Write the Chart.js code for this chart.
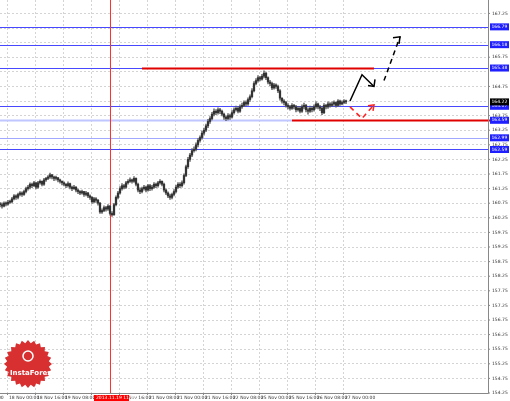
<!DOCTYPE html>
<html><head><meta charset="utf-8">
<script src="https://cdn.jsdelivr.net/npm/chart.js@4"></script>
<style>html,body{margin:0;padding:0;background:#fff}</style>
</head><body>
<canvas id="c" width="510" height="401"></canvas>
<script>
const closes = [
160.70,160.65,160.75,160.72,160.78, 160.80,160.90,161.00,160.95,161.05,
161.10,161.05,161.15,161.25,161.30, 161.40,161.35,161.45,161.30,161.45,
161.50,161.40,161.55,161.60,161.65, 161.72,161.65,161.60,161.62,161.55,
161.50,161.45,161.40,161.35,161.42, 161.30,161.25,161.30,161.20,161.15,
161.10,161.15,161.05,161.10,161.00, 160.95,160.80,160.90,160.85,160.75,
160.45,160.50,160.60,160.55,160.65, 160.40,160.35,160.70,160.95,161.10,
161.25,161.35,161.30,161.45,161.50, 161.55,161.50,161.60,161.40,161.20,
161.15,161.25,161.30,161.20,161.35, 161.25,161.30,161.40,161.35,161.45,
161.50,161.40,161.20,161.10,161.00, 160.95,161.05,161.15,161.30,161.40,
161.35,161.45,161.70,162.00,162.25, 162.40,162.55,162.60,162.75,162.90,
163.00,163.15,163.25,163.40,163.55, 163.65,163.80,163.90,163.85,163.95,
163.90,163.80,163.70,163.65,163.75, 163.70,163.85,163.95,164.00,163.90,
164.05,164.10,164.20,164.15,164.30, 164.40,164.60,164.85,164.95,165.05,
165.00,165.10,165.20,165.05,164.90, 164.85,164.70,164.80,164.75,164.60,
164.35,164.25,164.20,164.10,164.05, 164.00,164.10,164.05,163.95,164.00,
163.90,164.05,164.10,163.95,163.90, 164.00,163.95,164.05,164.15,164.05,
164.00,163.85,164.10,164.05,164.15, 164.10,164.15,164.20,164.10,164.25,
164.15,164.20,164.25,164.22];
const highs = [
160.78,160.76,160.80,160.80,160.85, 160.86,160.95,161.05,161.04,161.10,
161.15,161.14,161.20,161.30,161.36, 161.45,161.44,161.50,161.46,161.50,
161.55,161.52,161.60,161.64,161.70, 161.78,161.74,161.68,161.68,161.64,
161.58,161.52,161.48,161.42,161.48, 161.44,161.34,161.36,161.32,161.24,
161.18,161.20,161.16,161.16,161.12, 161.04,160.98,160.95,160.94,160.88,
160.78,160.56,160.66,160.64,160.70, 160.68,160.46,160.75,161.00,161.16,
161.32,161.42,161.40,161.50,161.56, 161.62,161.58,161.66,161.62,161.44,
161.28,161.30,161.36,161.34,161.40, 161.40,161.36,161.46,161.44,161.50,
161.56,161.52,161.44,161.24,161.14, 161.06,161.10,161.22,161.36,161.46,
161.46,161.52,161.76,162.06,162.32, 162.46,162.62,162.68,162.82,162.96,
163.06,163.22,163.32,163.46,163.62, 163.72,163.86,163.98,163.96,164.02,
164.00,163.94,163.84,163.74,163.82, 163.80,163.92,164.02,164.08,164.04,
164.12,164.18,164.26,164.26,164.36, 164.46,164.68,164.92,165.02,165.12,
165.10,165.16,165.28,165.24,165.08, 164.96,164.90,164.86,164.84,164.80,
164.64,164.36,164.30,164.24,164.16, 164.10,164.16,164.14,164.10,164.06,
164.06,164.12,164.18,164.14,164.02, 164.08,164.06,164.12,164.22,164.18,
164.10,164.04,164.16,164.14,164.22, 164.20,164.22,164.26,164.22,164.30,
164.28,164.26,164.30,164.28];
const lows = [
160.62,160.58,160.62,160.66,160.68, 160.74,160.76,160.86,160.88,160.90,
161.00,160.98,161.02,161.10,161.20, 161.24,161.28,161.32,161.24,161.26,
161.40,161.34,161.36,161.50,161.56, 161.60,161.58,161.52,161.54,161.48,
161.44,161.38,161.34,161.28,161.30, 161.24,161.18,161.22,161.14,161.08,
161.04,161.06,160.98,161.00,160.94, 160.88,160.74,160.76,160.78,160.68,
160.40,160.40,160.46,160.48,160.50, 160.34,160.30,160.34,160.66,160.90,
161.06,161.20,161.24,161.26,161.40, 161.46,161.44,161.46,161.34,161.14,
161.08,161.10,161.20,161.14,161.16, 161.18,161.20,161.26,161.28,161.30,
161.40,161.34,161.14,161.04,160.94, 160.88,160.90,161.00,161.10,161.26,
161.28,161.30,161.40,161.66,161.94, 162.18,162.34,162.50,162.54,162.68,
162.84,162.94,163.08,163.20,163.34, 163.48,163.60,163.74,163.78,163.80,
163.82,163.74,163.62,163.58,163.60, 163.62,163.66,163.80,163.90,163.84,
163.86,164.00,164.06,164.08,164.10, 164.24,164.36,164.56,164.80,164.90,
164.94,164.96,165.04,164.98,164.84, 164.78,164.64,164.66,164.68,164.54,
164.28,164.18,164.12,164.04,163.98, 163.94,163.96,163.98,163.88,163.90,
163.84,163.86,163.98,163.88,163.80, 163.86,163.88,163.90,164.00,163.98,
163.92,163.78,163.82,163.98,164.00, 164.04,164.06,164.10,164.04,164.06,
164.10,164.12,164.16,164.16];
const timeLabels = ["18 Nov 00:00","18 Nov 16:00","19 Nov 08:00","20 Nov 00:00","20 Nov 16:00","21 Nov 08:00","21 Nov 00:00","21 Nov 16:00","22 Nov 08:00","25 Nov 00:00","25 Nov 16:00","26 Nov 08:00","27 Nov 00:00"];
const timeLabelIdx = [3.5,17.5,31.5,45.5,59.5,73.5,87.5,101.5,115.5,129.5,143.5,157.5,171.5];
const priceTicks = [154.25,154.75,155.25,155.75,156.25,156.75,157.25,157.75,158.25,158.75,159.25,159.75,160.25,160.75,161.25,161.75,162.25,162.75,163.25,163.75,164.75,165.75,167.25];
const gridPrices = [164.25,165.25,166.25,166.75,167.25];
const blueLevels = [166.79,166.18,165.38,164.07,162.99,162.59];
const supportLevel = 163.59;
const resistLevel = 165.38;
const currentPrice = 164.22;
const markerIdx = 55;
const markerLabel = "2013.11.19 11:00";

const opens = closes.map((c,i)=> i===0 ? 160.72 : closes[i-1]);
const bodies = closes.map((c,i)=>({x:i, y:[opens[i], c]}));
const wicks = closes.map((c,i)=>({x:i, y:[lows[i], highs[i]]}));

const overlay = {
  id:'overlay',
  beforeDatasetsDraw(ch){
    const {ctx, chartArea:a, scales:{x,y}} = ch;
    ctx.save();
    ctx.lineWidth=1;
    blueLevels.forEach(v=>{
      const py=Math.round(y.getPixelForValue(v))+0.5;
      ctx.strokeStyle = (v===162.99)?'#a0a8ff':'#4848ff';
      ctx.beginPath();ctx.moveTo(a.left,py);ctx.lineTo(a.right,py);ctx.stroke();
    });
    let py=Math.round(y.getPixelForValue(supportLevel))+0.5;
    ctx.strokeStyle='#c0c6ff';ctx.lineWidth=2;
    ctx.beginPath();ctx.moveTo(a.left,py);ctx.lineTo(x.getPixelForValue(146),py);ctx.stroke();
    ctx.strokeStyle='#e00000';
    ctx.beginPath();ctx.moveTo(x.getPixelForValue(146),py);ctx.lineTo(x.getPixelForValue(250),py);ctx.stroke();
    py=Math.round(y.getPixelForValue(resistLevel))+0.5;
    ctx.beginPath();ctx.moveTo(x.getPixelForValue(71),py);ctx.lineTo(x.getPixelForValue(187),py);ctx.stroke();
    ctx.lineWidth=1;ctx.strokeStyle='#ff3030';
    const mx=Math.round(x.getPixelForValue(markerIdx))+0.5;
    ctx.beginPath();ctx.moveTo(mx,a.top);ctx.lineTo(mx,a.bottom);ctx.stroke();
    ctx.restore();
  },
  afterDraw(ch){
    const {ctx, chartArea:a, scales:{x,y}} = ch;
    ctx.save();
    const P=(i,v)=>[x.getPixelForValue(i),y.getPixelForValue(v)];
    ctx.strokeStyle='#000';ctx.lineWidth=1.5;
    let p=[P(175,164.25),P(181,165.15),P(187,164.75)];
    ctx.beginPath();ctx.moveTo(...p[0]);ctx.lineTo(...p[1]);ctx.lineTo(...p[2]);ctx.stroke();
    ctx.beginPath();ctx.moveTo(p[2][0]-6,p[2][1]-1);ctx.lineTo(...p[2]);ctx.lineTo(p[2][0]+1,p[2][1]-7);ctx.stroke();
    ctx.setLineDash([5,4]);
    p=[P(192,164.95),P(200,166.45)];
    ctx.beginPath();ctx.moveTo(...p[0]);ctx.lineTo(...p[1]);ctx.stroke();
    ctx.setLineDash([]);
    ctx.beginPath();ctx.moveTo(p[1][0]-7,p[1][1]+1);ctx.lineTo(...p[1]);ctx.lineTo(p[1][0]-1,p[1][1]+7);ctx.stroke();
    ctx.strokeStyle='#ff2020';ctx.setLineDash([5,4]);
    p=[P(175,164.05),P(181,163.65),P(187,164.12)];
    ctx.beginPath();ctx.moveTo(...p[0]);ctx.lineTo(...p[1]);ctx.lineTo(...p[2]);ctx.stroke();
    ctx.setLineDash([]);
    ctx.beginPath();ctx.moveTo(p[2][0]-6,p[2][1]+1);ctx.lineTo(...p[2]);ctx.lineTo(p[2][0]-1,p[2][1]+6);ctx.stroke();
    ctx.strokeStyle='#888';ctx.lineWidth=1;
    ctx.beginPath();ctx.moveTo(a.right+0.5,0);ctx.lineTo(a.right+0.5,a.bottom+0.5);ctx.lineTo(0,a.bottom+0.5);ctx.stroke();
    ctx.font='4.5px "DejaVu Sans"';ctx.textBaseline='middle';ctx.fillStyle='#333';
    priceTicks.forEach(v=>{const yy=y.getPixelForValue(v);ctx.fillText(v.toFixed(2),a.right+4,yy);
      ctx.beginPath();ctx.moveTo(a.right,yy);ctx.lineTo(a.right+2,yy);ctx.stroke();});
    const box=(v,bg)=>{const yy=y.getPixelForValue(v);ctx.fillStyle=bg;ctx.fillRect(a.right+2,yy-3.5,19,7);
      ctx.fillStyle='#fff';ctx.fillText(v.toFixed(2),a.right+3.5,yy);};
    blueLevels.forEach(v=>box(v,'#2020ff'));
    box(supportLevel,'#2020ff');
    box(currentPrice,'#000');
    ctx.fillStyle='#333';ctx.textBaseline='top';
    ctx.fillText('00',a.left-2,a.bottom+3);
    timeLabels.forEach((t,k)=>{const xx=x.getPixelForValue(timeLabelIdx[k]);ctx.fillText(t,xx+2,a.bottom+3);
      ctx.beginPath();ctx.moveTo(xx+0.5,a.bottom);ctx.lineTo(xx+0.5,a.bottom+2);ctx.stroke();});
    const mx=x.getPixelForValue(markerIdx);
    ctx.fillStyle='#ff0000';ctx.fillRect(mx-16,a.bottom+2,35,7);
    ctx.fillStyle='#fff';ctx.fillText(markerLabel,mx-14,a.bottom+3);
    ctx.fillStyle='#d83030';
    ctx.beginPath();
    for(let k=0;k<48;k++){const r=k%2?21:24,an=k*Math.PI/24;ctx.lineTo(28+r*Math.cos(an),364+r*Math.sin(an));}
    ctx.closePath();ctx.fill();
    ctx.fillStyle='#fff';ctx.font='bold 7px "DejaVu Sans"';ctx.textBaseline='middle';
    ctx.fillText('InstaForex',10,373);
    ctx.beginPath();ctx.arc(28,356,5,0,Math.PI*2);ctx.strokeStyle='#fff';ctx.lineWidth=1.5;ctx.stroke();
    ctx.restore();
  }
};

new Chart(document.getElementById('c'),{
  type:'bar',
  data:{datasets:[
    {data:bodies,backgroundColor:'#333',borderWidth:0,barThickness:1.6,minBarLength:1.2,grouped:false,order:1},
    {data:wicks,backgroundColor:'#555',borderWidth:0,barThickness:0.7,grouped:false,order:2}
  ]},
  options:{
    responsive:false,animation:false,
    layout:{padding:{left:0,right:22,top:0,bottom:8}},
    plugins:{legend:{display:false},tooltip:{enabled:false}},
    scales:{
      x:{type:'linear',min:0,max:244,offset:false,
        afterBuildTicks(s){s.ticks=timeLabelIdx.map(v=>({value:v}));},
        ticks:{display:false},border:{display:false,dash:[2,2]},
        grid:{color:'#d4d4d4',tickLength:0,offset:false}},
      y:{position:'right',min:154.25,max:167.71,
        afterBuildTicks(s){s.ticks=priceTicks.concat(gridPrices).map(v=>({value:v}));},
        ticks:{display:false},border:{display:false,dash:[2,2]},
        grid:{color:'#d4d4d4',tickLength:0}}
    }
  },
  plugins:[overlay]
});
</script>
</body></html>
